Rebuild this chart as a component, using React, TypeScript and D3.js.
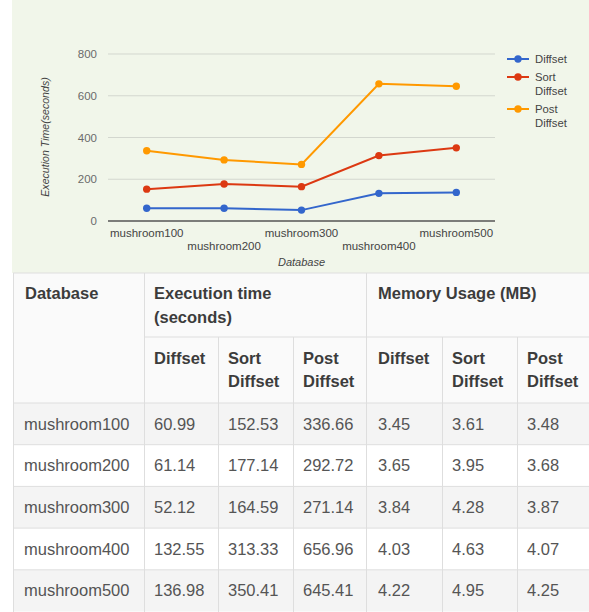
import * as d3 from 'd3'
import React from 'react'

const databases = ['mushroom100', 'mushroom200', 'mushroom300', 'mushroom400', 'mushroom500']
const seriesNames = ['Diffset', 'Sort Diffset', 'Post Diffset']
const diffsetTime = [60.99, 61.14, 52.12, 132.55, 136.98]
const sortDiffsetTime = [152.53, 177.14, 164.59, 313.33, 350.41]
const postDiffsetTime = [336.66, 292.72, 271.14, 656.96, 645.41]
const diffsetMem = [3.45, 3.65, 3.84, 4.03, 4.22]
const sortDiffsetMem = [3.61, 3.95, 4.28, 4.63, 4.95]
const postDiffsetMem = [3.48, 3.68, 3.87, 4.07, 4.25]
const yTicks = [0, 200, 400, 600, 800]
const colors = ['#3366cc', '#dc3912', '#ff9900']

const W = 589
const H = 612
const font = '"Liberation Sans", Arial, sans-serif'

// chart area
const plot = { left: 108, right: 495, top: 54, bottom: 221 }

const App = () => {
  const x = d3.scalePoint()
    .domain(databases)
    .range([plot.left, plot.right])
    .padding(0.5)
  const y = d3.scaleLinear()
    .domain([0, 800])
    .range([plot.bottom, plot.top])

  const line = d3.line<number>()
    .x((d, i) => x(databases[i]) as number)
    .y(d => y(d))

  const times = [diffsetTime, sortDiffsetTime, postDiffsetTime]

  // table layout
  const colEdges = [13, 144, 218, 293, 366, 442, 517, 595]
  const headTop = 273
  const head1 = 337
  const head2 = 403
  const rows = d3.scaleBand()
    .domain(databases)
    .range([head2, 611.5])
  const cells = databases.map((db, i) => [
    db,
    diffsetTime[i].toFixed(2),
    sortDiffsetTime[i].toFixed(2),
    postDiffsetTime[i].toFixed(2),
    diffsetMem[i].toFixed(2),
    sortDiffsetMem[i].toFixed(2),
    postDiffsetMem[i].toFixed(2),
  ])
  const subHeads = [seriesNames, seriesNames].flat().map(s => s.split(' '))
  const border = '#dedede'

  return (
    <svg width={W} height={H} style={{ position: 'absolute', left: 0, top: 0 }} fontFamily={font}>
      <rect x={0} y={0} width={W} height={H} fill="#fff" />
      <rect x={12} y={0} width={W - 12} height={headTop} fill="#f1f6ea" />

      {/* gridlines */}
      {yTicks.map(t => (
        <g key={t}>
          {t > 0 && <line x1={plot.left} x2={plot.right} y1={y(t)} y2={y(t)} stroke="#d3d7cf" strokeWidth={1} />}
          <text x={97} y={y(t)} dy="0.35em" textAnchor="end" fontSize={11.5} fill="#6b6b6b">{t}</text>
        </g>
      ))}
      <line x1={plot.left} x2={plot.right} y1={y(0)} y2={y(0)} stroke="#555" strokeWidth={1.3} />

      {databases.map((d, i) => (
        <text key={d} x={x(d)} y={i % 2 === 0 ? 233 : 246} dy="0.35em" textAnchor="middle" fontSize={11.5} fill="#444">{d}</text>
      ))}
      <text x={(plot.left + plot.right) / 2} y={262} dy="0.35em" textAnchor="middle" fontSize={11} fontStyle="italic" fill="#444">Database</text>
      <text transform={`translate(45,137) rotate(-90)`} textAnchor="middle" dy="0.35em" fontSize={10.6} fontStyle="italic" fill="#444">Execution Time(seconds)</text>

      {times.map((vals, s) => (
        <g key={s}>
          <path d={line(vals) ?? ''} fill="none" stroke={colors[s]} strokeWidth={2} />
          {vals.map((v, i) => (
            <circle key={i} cx={x(databases[i])} cy={y(v)} r={3.7} fill={colors[s]} />
          ))}
        </g>
      ))}

      {/* legend */}
      {seriesNames.map((name, s) => {
        const ly = [59, 77, 109][s]
        return (
          <g key={name}>
            <line x1={507} x2={529} y1={ly} y2={ly} stroke={colors[s]} strokeWidth={2} />
            <circle cx={518} cy={ly} r={3.7} fill={colors[s]} />
            {name.split(' ').map((w, k) => (
              <text key={k} x={535} y={ly + k * 14} dy="0.35em" fontSize={11.3} fill="#444">{w}</text>
            ))}
          </g>
        )
      })}

      {/* table */}
      <rect x={colEdges[0]} y={headTop} width={W - colEdges[0]} height={head2 - headTop} fill="#fafafa" />
      {databases.map((d, i) => (
        <rect key={d} x={colEdges[0]} y={rows(d)} width={W - colEdges[0]} height={rows.bandwidth()} fill={i % 2 === 0 ? '#f4f4f4' : '#fff'} />
      ))}
      <line x1={colEdges[0]} x2={W} y1={headTop} y2={headTop} stroke={border} />
      <line x1={colEdges[1]} x2={W} y1={head1} y2={head1} stroke={border} />
      {databases.map(d => (
        <line key={d} x1={colEdges[0]} x2={W} y1={rows(d)} y2={rows(d)} stroke={border} />
      ))}
      <line x1={colEdges[0] + 0.5} x2={colEdges[0] + 0.5} y1={headTop} y2={H} stroke={border} />
      <line x1={colEdges[1] + 0.5} x2={colEdges[1] + 0.5} y1={headTop} y2={H} stroke={border} />
      <line x1={colEdges[4] + 0.5} x2={colEdges[4] + 0.5} y1={headTop} y2={H} stroke={border} />
      {[2, 3, 5, 6].map(c => (
        <line key={c} x1={colEdges[c] + 0.5} x2={colEdges[c] + 0.5} y1={head1} y2={H} stroke={border} />
      ))}

      <g fontSize={16.5} fontWeight="bold" fill="#3c3c3c">
        <text x={25} y={293} dy="0.35em">Database</text>
        <text x={colEdges[1] + 10} y={293} dy="0.35em">Execution time</text>
        <text x={colEdges[1] + 10} y={317} dy="0.35em">(seconds)</text>
        <text x={colEdges[4] + 12} y={293} dy="0.35em">Memory Usage (MB)</text>
        {subHeads.map((words, c) => words.map((w, k) => (
          <text key={`${c}-${k}`} x={colEdges[c + 1] + (c === 3 ? 12 : 10)} y={358 + k * 23} dy="0.35em">{w}</text>
        )))}
      </g>

      <g fontSize={16.5} fill="#555">
        {cells.map((row, r) => row.map((v, c) => (
          <text key={`${r}-${c}`} x={c === 0 ? 24 : colEdges[c] + (c === 4 ? 12 : 10)} y={(rows(databases[r]) as number) + rows.bandwidth() / 2} dy="0.35em">{v}</text>
        )))}
      </g>
    </svg>
  )
}

export default App
